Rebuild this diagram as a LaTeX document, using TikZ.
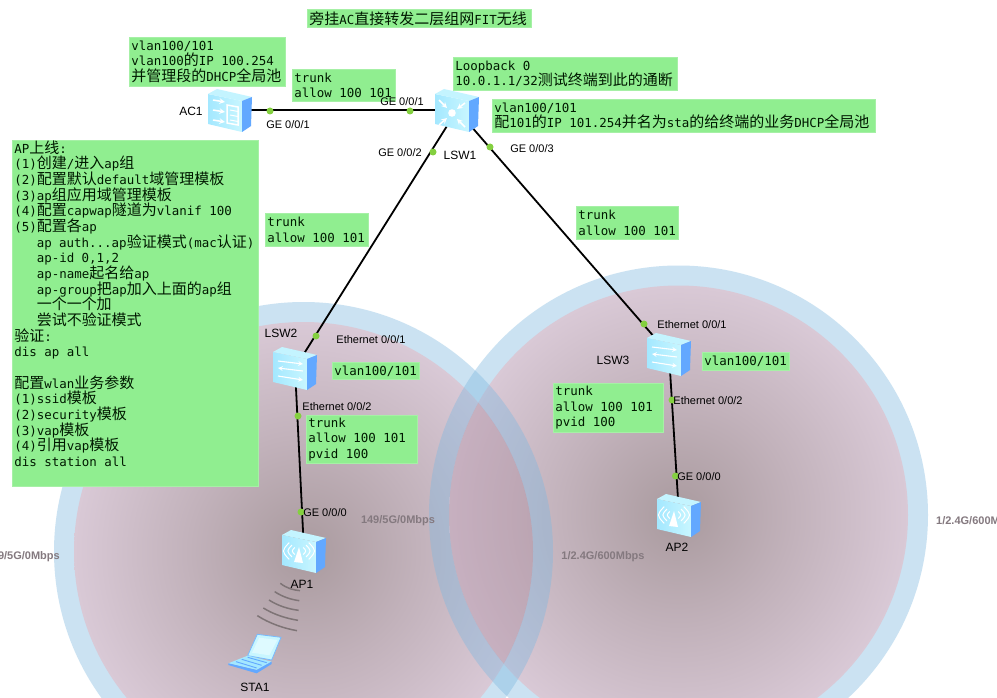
\documentclass[tikz,border=0pt]{standalone}
\usepackage{fontspec}
\setmainfont{Liberation Sans}
\setmonofont{DejaVu Sans Mono}
\newfontfamily\cjk{Noto Sans CJK SC}
\newcommand\zh[1]{{\fontsize{15}{15.65}\selectfont\cjk #1}}
\newcommand\monoset{\fontsize{12.46}{15.65}\selectfont\ttfamily\lineskiplimit=-100pt\relax}
\newcommand\ind{\hspace*{22.4pt}}
\definecolor{boxfill}{HTML}{90EE90}
\definecolor{boxedge}{HTML}{A6F0A6}
\definecolor{portgreen}{HTML}{84D040}
\definecolor{ringblue}{HTML}{7FB8E0}
\definecolor{pinkC}{HTML}{A99A9E}
\definecolor{pinkM}{HTML}{C2B2BB}
\definecolor{pinkE}{HTML}{D9C9D6}
\definecolor{lensA}{HTML}{A58296}
\definecolor{frontA}{HTML}{A4E8FF}
\definecolor{frontB}{HTML}{C8F6FF}
\definecolor{topface}{HTML}{C4F4FF}
\definecolor{sideface}{HTML}{62A8FF}
\definecolor{wave}{HTML}{7E7476}
\definecolor{rate}{HTML}{84797F}
\pgfdeclareradialshading{cellshade}{\pgfpointorigin}{color(0bp)=(pinkC); color(12.5bp)=(pinkM); color(25bp)=(pinkE); color(50bp)=(pinkE)}
\tikzset{
  note/.style={draw=boxedge,line width=0.7pt,fill=boxfill,anchor=north west,align=left,inner xsep=2pt,inner ysep=0pt,font=\monoset,text=black!90!green,execute at begin node={\spaceskip=7.5pt\relax}},
  devnode/.style={rectangle,minimum width=36pt,minimum height=30pt,inner sep=0pt},
  link/.style={draw=black,line width=1.8pt},
  portdot/.style={circle,fill=portgreen,inner sep=0pt,minimum size=7pt},
  portlabel/.style={font=\fontsize{11}{12}\selectfont,inner sep=0pt,text=black},
  devlabel/.style={font=\fontsize{12}{13}\selectfont,inner sep=0pt,text=black},
  ratelabel/.style={font=\fontsize{11}{12}\selectfont\bfseries,inner sep=0pt,text=rate},
  glyph/.style={draw=white,line width=1.5pt},
  devshell/.pic={
    \shade[left color=frontA,right color=frontB] (-22,-16) -- (12,-9) -- (12,22) -- (-22,14) -- cycle;
    \fill[topface] (-22,-16) -- (-13,-21) -- (22,-13) -- (12,-9) -- cycle;
    \fill[sideface] (12,-9) -- (22,-13) -- (21,16) -- (12,22) -- cycle;
  },
  acglyph/.pic={
    \foreach \q in {-9,1,11}{\draw[glyph,-stealth] (-17,\q-1) -- (-5,{\q+1});}
    \draw[glyph] (-3,-5) -- (8,-3) -- (8,15) -- (-3,13) -- cycle;
    \draw[glyph,line width=1pt] (0,0) -- (8,1.5) (0,5) -- (8,6.5) (0,10) -- (8,11.5);
  },
  coreglyph/.pic={
    \fill[white] (-5,3) circle (3.8);
    \draw[glyph,-stealth] (-18,-10) -- (-10,-2);
    \draw[glyph,-stealth] (8,-7) -- (0,-1);
    \draw[glyph,-stealth] (-18,15) -- (-10,8);
    \draw[glyph,-stealth] (8,17) -- (0,9);
  },
  l2glyph/.pic={
    \draw[glyph,line width=1.1pt,-stealth] (-17,-7) -- (8,-4);
    \draw[glyph,line width=1.1pt,-stealth] (8,3) -- (-17,0);
    \draw[glyph,line width=1.1pt,-stealth] (-17,8) -- (8,12);
  },
  apglyph/.pic={
    \fill[white] (-5,-4) -- (-1,12) -- (-10,11) -- cycle;
    \foreach \r in {6,10,14}{
      \draw[white,line width=1pt] ({-5-\r*.7},{-\r*.6}) .. controls ({-5-\r*1.25},{0}) .. ({-5-\r*.7},{\r*.6});
      \draw[white,line width=1pt] ({-5+\r*.7},{-\r*.6}) .. controls ({-5+\r*1.25},{0}) .. ({-5+\r*.7},{\r*.6});
    }
  }
}
\begin{document}
\begin{tikzpicture}[x=1pt,y=-1pt]
\clip (0,0) rectangle (997,698);
\useasboundingbox (0,0) rectangle (997,698);
\fill[white] (0,0) rectangle (997,698);
% coverage cells
\def\Rout{249.5}\def\Rin{229.5}
\coordinate (cl) at (303.5,551.5);
\coordinate (cr) at (678.5,515);
\fill[ringblue,fill opacity=.4] (cl) circle (\Rout);
\fill[ringblue,fill opacity=.4] (cr) circle (\Rout);
\shade[shading=cellshade] (cl) circle (\Rin);
\shade[shading=cellshade] (cr) circle (\Rin);
\begin{scope}
  \clip (cr) circle (\Rin);
  \fill[ringblue,fill opacity=.4,even odd rule] (cl) circle (\Rout) (cl) circle (\Rin);
  \fill[lensA,fill opacity=.35] (cl) circle (\Rin);
\end{scope}
\begin{scope}
  \clip (cl) circle (\Rin);
  \fill[ringblue,fill opacity=.4,even odd rule] (cr) circle (\Rout) (cr) circle (\Rin);
\end{scope}
% devices
\node[devnode] (ac1) at (230,110) {};
\node[devnode] (lsw1) at (457,110) {};
\node[devnode] (lsw2) at (295,368) {};
\node[devnode] (lsw3) at (669,354) {};
\node[devnode] (ap1) at (304,551) {};
\node[devnode] (ap2) at (679,515) {};
\node[devnode,minimum width=30pt,minimum height=30pt] (sta1) at (255,656) {};
% connectors
\draw[link] (ac1) -- (lsw1);
\draw[link] (lsw1) -- (lsw2);
\draw[link] (lsw1) -- (lsw3);
\draw[link] (lsw2) -- (ap1);
\draw[link] (lsw3) -- (ap2);
% icons
\pic at (ac1) {devshell}; \pic at (ac1) {acglyph};
\pic at (lsw1) {devshell}; \pic at (lsw1) {coreglyph};
\pic at (lsw2) {devshell}; \pic at (lsw2) {l2glyph};
\pic at (lsw3) {devshell}; \pic at (lsw3) {l2glyph};
\pic at (ap1) {devshell}; \pic at (ap1) {apglyph};
\pic at (ap2) {devshell}; \pic at (ap2) {apglyph};
% wireless waves and laptop
\begin{scope}[shift={(200,480)},x=.3333pt,y=-.3333pt,line width=1.5pt,wave]
  \draw (241,310) .. controls (262,326) and (280,330) .. (300,332);
  \draw (224,335) .. controls (250,352) and (275,359) .. (298,362);
  \draw (207,360) .. controls (235,378) and (265,387) .. (296,391);
  \draw (190,384) .. controls (222,404) and (258,415) .. (294,421);
  \draw (172,407) .. controls (208,430) and (250,445) .. (291,452);
  \fill[frontB] (172,463) -- (243,472) -- (215,540) -- (143,527) -- cycle;
  \draw[sideface!70!frontA,line width=.8pt] (172,463) -- (243,472) -- (215,540) -- (143,527) -- cycle;
  \fill[white!40!frontB] (178,473) -- (232,480) -- (208,526) -- (156,518) -- cycle;
  \fill[frontA] (143,527) -- (215,545) -- (170,570) -- (85,550) -- cycle;
  \draw[sideface,line width=.9pt] (143,532) -- (200,548) (125,538) -- (185,556) (108,545) -- (170,564);
  \fill[sideface] (85,550) -- (170,570) -- (215,545) -- (215,552) -- (170,580) -- (85,555) -- cycle;
\end{scope}
% notes
\node[note,minimum width=224pt,minimum height=18pt,text width=220pt] (title) at (307,9) {\zh{旁挂}AC\zh{直接转发二层组网}FIT\zh{无线}};
\node[note,minimum width=156pt,minimum height=49pt,text width=152pt] (ac1note) at (129,37) {vlan100/101\\vlan100\zh{的}IP 100.254\\\zh{并管理段的}DHCP\zh{全局池}};
\node[note,minimum width=103pt,minimum height=32pt,text width=99pt] (trunk1) at (292,69) {trunk\\allow 100 101};
\node[note,minimum width=224pt,minimum height=33pt,text width=220pt] (loop) at (453,57) {Loopback 0\\10.0.1.1/32\zh{测试终端到此的通断}};
\node[note,minimum width=383pt,minimum height=33pt,text width=379pt] (sw1note) at (492,99) {vlan100/101\\\zh{配}101\zh{的}IP 101.254\zh{并名为}sta\zh{的给终端的业务}DHCP\zh{全局池}};
\node[note,minimum width=102pt,minimum height=33pt,text width=98pt] (trunk3) at (576,206) {trunk\\allow 100 101};
\node[note,minimum width=103pt,minimum height=33pt,text width=99pt] (trunk2) at (265,213) {trunk\\allow 100 101};
\node[note,minimum width=246pt,minimum height=346pt,text width=242pt] (apnote) at (12,140) {AP\zh{上线}:\\
(1)\zh{创建}/\zh{进入}ap\zh{组}\\
(2)\zh{配置默认}default\zh{域管理模板}\\
(3)ap\zh{组应用域管理模板}\\
(4)\zh{配置}capwap\zh{隧道为}vlanif 100\\
(5)\zh{配置各}ap\\
\ind ap auth...ap\zh{验证模式}(mac\zh{认证})\\
\ind ap-id 0,1,2\\
\ind ap-name\zh{起名给}ap\\
\ind ap-group\zh{把}ap\zh{加入上面的}ap\zh{组}\\
\ind\zh{一个一个加}\\
\ind\zh{尝试不验证模式}\\
\zh{验证}:\\
dis ap all\\
~\\
\zh{配置}wlan\zh{业务参数}\\
(1)ssid\zh{模板}\\
(2)security\zh{模板}\\
(3)vap\zh{模板}\\
(4)\zh{引用}vap\zh{模板}\\
dis station all\\[4pt]
~};
\node[note,minimum width=87pt,minimum height=17pt,text width=83pt] (sw2vlan) at (332,362) {vlan100/101};
\node[note,minimum width=111pt,minimum height=48pt,text width=107pt] (sw2trunk) at (306,415) {trunk\\allow 100 101\\pvid 100};
\node[note,minimum width=87pt,minimum height=18pt,text width=83pt] (sw3vlan) at (702,352) {vlan100/101};
\node[note,minimum width=110pt,minimum height=49pt,text width=106pt] (sw3trunk) at (553,383) {trunk\\allow 100 101\\pvid 100};
% port dots
\node[portdot] (d1) at (270,111) {};
\node[portdot] (d2) at (410,111) {};
\node[portdot] (d3) at (433,152) {};
\node[portdot] (d4) at (490,147) {};
\node[portdot] (d5) at (316,336) {};
\node[portdot] (d6) at (298,416) {};
\node[portdot] (d7) at (301,512) {};
\node[portdot] (d8) at (644,324) {};
\node[portdot] (d9) at (672,400) {};
\node[portdot] (d10) at (675.5,476) {};
% port labels
\node[portlabel] (t1) at (288,125) {GE 0/0/1};
\node[portlabel] (t2) at (402,102) {GE 0/0/1};
\node[portlabel] (t3) at (400,153) {GE 0/0/2};
\node[portlabel] (t4) at (532,149) {GE 0/0/3};
\node[portlabel] (t5) at (371,340) {Ethernet 0/0/1};
\node[portlabel] (t6) at (337,407) {Ethernet 0/0/2};
\node[portlabel] (t7) at (325,513) {GE 0/0/0};
\node[portlabel] (t8) at (692,325) {Ethernet 0/0/1};
\node[portlabel] (t9) at (708,401) {Ethernet 0/0/2};
\node[portlabel] (t10) at (699,477) {GE 0/0/0};
% device labels
\node[devlabel] (n1) at (191,111) {AC1};
\node[devlabel] (n2) at (460,155) {LSW1};
\node[devlabel] (n3) at (281,333) {LSW2};
\node[devlabel] (n4) at (613,360) {LSW3};
\node[devlabel] (n5) at (302,584) {AP1};
\node[devlabel] (n6) at (677,547) {AP2};
\node[devlabel] (n7) at (255,687) {STA1};
% rates
\node[ratelabel,anchor=east] (r1) at (60,557) {9/5G/0Mbps};
\node[ratelabel] (r2) at (398,521) {149/5G/0Mbps};
\node[ratelabel] (r3) at (603,557) {1/2.4G/600Mbps};
\node[ratelabel,anchor=west] (r4) at (936,521) {1/2.4G/600M};
\end{tikzpicture}
\end{document}
